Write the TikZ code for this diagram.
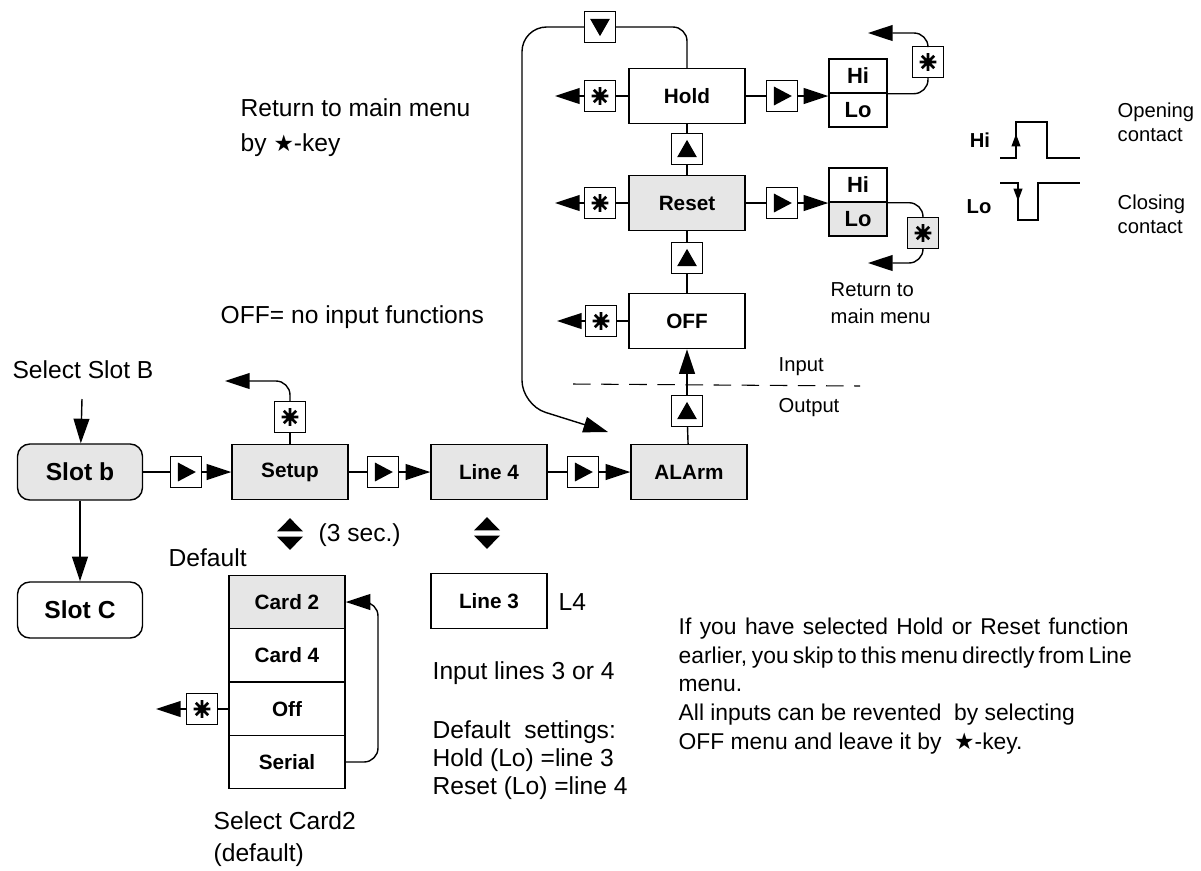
\documentclass[tikz,border=0pt]{standalone}
\usepackage{fontspec}
\setmainfont{Liberation Sans}
\newfontfamily\symfont{DejaVu Sans}
\usetikzlibrary{arrows.meta}

\definecolor{boxgray}{RGB}{230,230,230}
\newcommand{\keystar}{{\symfont\fontsize{13}{13}\selectfont ★}}

\tikzset{
  menu/.style={draw, line width=.8pt, minimum width=2.32cm, minimum height=1.1cm,
    inner sep=0pt, font=\bfseries\fontsize{11.8}{13}\selectfont},
  slot/.style={menu, rounded corners=7pt, minimum width=2.5cm, minimum height=1.12cm,
    font=\bfseries\fontsize{14}{16}\selectfont},
  hilo/.style={menu, minimum width=1.16cm, minimum height=.68cm,
    font=\bfseries\fontsize{12.5}{14}\selectfont},
  key/.style={draw, line width=.8pt, fill=white, minimum size=.62cm, inner sep=0pt},
  keyright/.style={key, path picture={\fill[black, shift={(path picture bounding box.center)}]
    (-4.6pt,5.4pt) -- (5.6pt,0pt) -- (-4.6pt,-5.4pt) -- cycle;}},
  keyup/.style={key, path picture={\fill[black, shift={(path picture bounding box.center)}]
    (-5.6pt,-4.6pt) -- (5.6pt,-4.6pt) -- (0pt,5.2pt) -- cycle;}},
  keydown/.style={key, path picture={\fill[black, shift={(path picture bounding box.center)}]
    (-5.6pt,4.6pt) -- (5.6pt,4.6pt) -- (0pt,-5.2pt) -- cycle;}},
  keyast/.style={key, path picture={\draw[black, line width=1.5pt, shift={(path picture bounding box.center)}]
    (-4.8pt,0pt) -- (4.8pt,0pt) (0pt,-5pt) -- (0pt,5pt)
    (-3.5pt,-3.5pt) -- (3.5pt,3.5pt) (-3.5pt,3.5pt) -- (3.5pt,-3.5pt);}},
  updown/.style={minimum width=.55cm, minimum height=.66cm, inner sep=0pt,
    path picture={\fill[black, shift={(path picture bounding box.center)}]
    (-7.4pt,1.5pt) -- (7.4pt,1.5pt) -- (0pt,9pt) -- cycle
    (-7.4pt,-1.5pt) -- (7.4pt,-1.5pt) -- (0pt,-9pt) -- cycle;}},
  txt/.style={anchor=west, align=left, inner sep=0pt, font=\fontsize{14}{20}\selectfont},
  small/.style={anchor=west, align=left, inner sep=0pt, font=\fontsize{11.5}{13.5}\selectfont}
}

\begin{document}
\begin{tikzpicture}[x=0.02cm, y=-0.02cm, line width=.8pt,
    >={Triangle[length=14pt,width=9pt]}]
  \useasboundingbox (0,0) rectangle (1201,870);

  % menu boxes
  \node[slot, fill=boxgray] (slotb) at (80,472) {Slot b};
  \node[slot]               (slotc) at (80,610) {Slot C};
  \node[menu, fill=boxgray] (setup) at (290,472) {Setup};
  \node[menu, fill=boxgray] (line4) at (489,472) {Line 4};
  \node[menu, fill=boxgray] (alarm) at (689,472) {ALArm};
  \node[menu]               (off)   at (687,321) {OFF};
  \node[menu, fill=boxgray] (reset) at (687,203) {Reset};
  \node[menu]               (hold)  at (687,96)  {Hold};
  \node[menu]               (line3) at (489,601) {Line 3};

  \node[hilo]               (holdhi)  at (858,76)  {Hi};
  \node[hilo]               (holdlo)  at (858,110) {Lo};
  \node[hilo]               (resethi) at (858,185) {Hi};
  \node[hilo, fill=boxgray] (resetlo) at (858,219) {Lo};

  \begin{scope}[every node/.style={menu, minimum height=1.07cm}]
    \node[fill=boxgray] (card2)  at (287,602) {Card 2};
    \node               (card4)  at (287,655) {Card 4};
    \node               (cardoff) at (287,709) {Off};
    \node               (serial) at (287,762) {Serial};
  \end{scope}

  % keys
  \node[keyright] (k1) at (186,472) {};
  \node[keyright] (k2) at (383,472) {};
  \node[keyright] (k3) at (583,472) {};
  \node[keyright] (k4) at (782,96)  {};
  \node[keyright] (k5) at (782,203) {};
  \node[keyup]    (u1) at (687,411) {};
  \node[keyup]    (u2) at (687,258) {};
  \node[keyup]    (u3) at (687,149) {};
  \node[keydown]  (d1) at (600,27)  {};
  \node[keyast]   (s1) at (290,417) {};
  \node[keyast]   (s2) at (601,321) {};
  \node[keyast]   (s3) at (600,203) {};
  \node[keyast]   (s4) at (600,96)  {};
  \node[keyast]   (s5) at (928,62)  {};
  \node[keyast, fill=boxgray] (s6) at (923,233) {};
  \node[keyast]   (s7) at (202,709) {};

  \node[updown] (ud1) at (290,534) {};
  \node[updown] (ud2) at (487,533) {};

  % free ends
  \coordinate (in)   at (82,399);
  \coordinate (r1)   at (225,381);
  \coordinate (r2)   at (557,321);
  \coordinate (r3)   at (555,203);
  \coordinate (r4)   at (555,96);
  \coordinate (r5)   at (868,33);
  \coordinate (r6)   at (868,263);
  \coordinate (r7)   at (156,709);
  \coordinate (jtl)  at (522,27);
  \coordinate (jbl)  at (522,405);
  \coordinate (jend) at (608,432);
  \coordinate (loop) at (378,680);

  % connectors
  \draw[->] (in) -- (slotb);
  \draw[->] (slotb) -- (slotc);
  \draw (slotb) -- (k1);  \draw[->] (k1) -- (setup);
  \draw (setup) -- (k2);  \draw[->] (k2) -- (line4);
  \draw (line4) -- (k3);  \draw[->] (k3) -- (alarm);
  \draw (setup) -- (s1);  \draw[->, rounded corners=8pt] (s1.north) |- (r1);
  \draw (alarm) -- (u1);  \draw[->] (u1) -- (off);
  \draw (off) -- (u2) -- (reset);
  \draw (reset) -- (u3) -- (hold);
  \draw (off) -- (s2);    \draw[->] (s2) -- (r2);
  \draw (reset) -- (s3);  \draw[->] (s3) -- (r3);
  \draw (hold) -- (s4);   \draw[->] (s4) -- (r4);
  \draw (hold) -- (k4);   \draw[->] (k4.east) -- (k4.east -| holdhi.west);
  \draw (reset) -- (k5);  \draw[->] (k5.east) -- (k5.east -| resethi.west);
  \draw[rounded corners=8pt] (holdhi.south east) -| (s5.south);
  \draw[->, rounded corners=8pt] (s5.north) |- (r5);
  \draw[rounded corners=8pt] (resethi.south east) -| (s6.north);
  \draw[->, rounded corners=8pt] (s6.south) |- (r6);
  \draw[rounded corners=8pt] (hold.north) |- (d1.east);
  \draw[->, rounded corners=14pt] (d1.west) -- (jtl) -- (jbl) -- (jend);
  \draw[->, rounded corners=8pt] (serial.east) -| (loop) |- (card2.east);
  \draw (cardoff) -- (s7); \draw[->] (s7) -- (r7);

  % input / output border
  \coordinate (io1) at (573,384);
  \coordinate (io2) at (860,386);
  \draw[dash pattern=on 10pt off 6pt, line width=.6pt] (io1) -- (io2);

  % contact signals
  \draw (1000,158) -- (1016,158) -- (1016,122) -- (1047,122) -- (1047,158) -- (1080,158);
  \draw[-{Triangle[length=7pt,width=5pt]}] (1016,158) -- (1016,134);
  \draw (1000,183) -- (1018,183) -- (1018,220) -- (1038,220) -- (1038,183) -- (1080,183);
  \draw[-{Triangle[length=7pt,width=5pt]}] (1018,183) -- (1018,201);
  \node[font=\bfseries\fontsize{11.5}{13}\selectfont] (hisig) at (980,140) {Hi};
  \node[font=\bfseries\fontsize{11.5}{13}\selectfont] (losig) at (979,207) {Lo};

  % texts
  \node[txt, anchor=center] (selb) at (83,370) {Select Slot B};
  \node[txt] (retkey) at (240,128) {Return to main menu\\by \keystar-key};
  \node[txt] (offtxt) at (220,317) {OFF= no input functions};
  \node[txt] (sec) at (318,535) {(3 sec.)};
  \node[txt] (deflt) at (168,558) {Default};
  \node[txt, font=\fontsize{14}{18}\selectfont] (selc) at (213,839) {Select Card2\\(default)};
  \node[txt] (l4) at (558,602) {L4};
  \node[txt] (lines) at (432,673) {Input lines 3 or 4};
  \node[txt, font=\fontsize{14}{15.9}\selectfont] (defs) at (432,760)
    {Default\ \ settings:\\Hold (Lo) =line 3\\Reset (Lo) =line 4};
  \node[txt, font=\fontsize{13}{16.3}\selectfont] (note) at (678,686)
    {\makebox[9cm][s]{If you have selected Hold or Reset function}\\
     \makebox[9cm][s]{earlier, you skip to this menu directly from Line}\\
     menu.\\
     All inputs can be revented\ \ by selecting\\
     OFF menu and leave it by \ \keystar-key.};
  \node[small] (intxt) at (778,367) {Input};
  \node[small] (outtxt) at (778,408) {Output};
  \node[small, font=\fontsize{11.5}{15}\selectfont] (rettxt) at (830,303) {Return to\\main menu};
  \node[small] (opening) at (1117,122) {Opening\\contact};
  \node[small] (closing) at (1117,214) {Closing\\contact};
\end{tikzpicture}
\end{document}
